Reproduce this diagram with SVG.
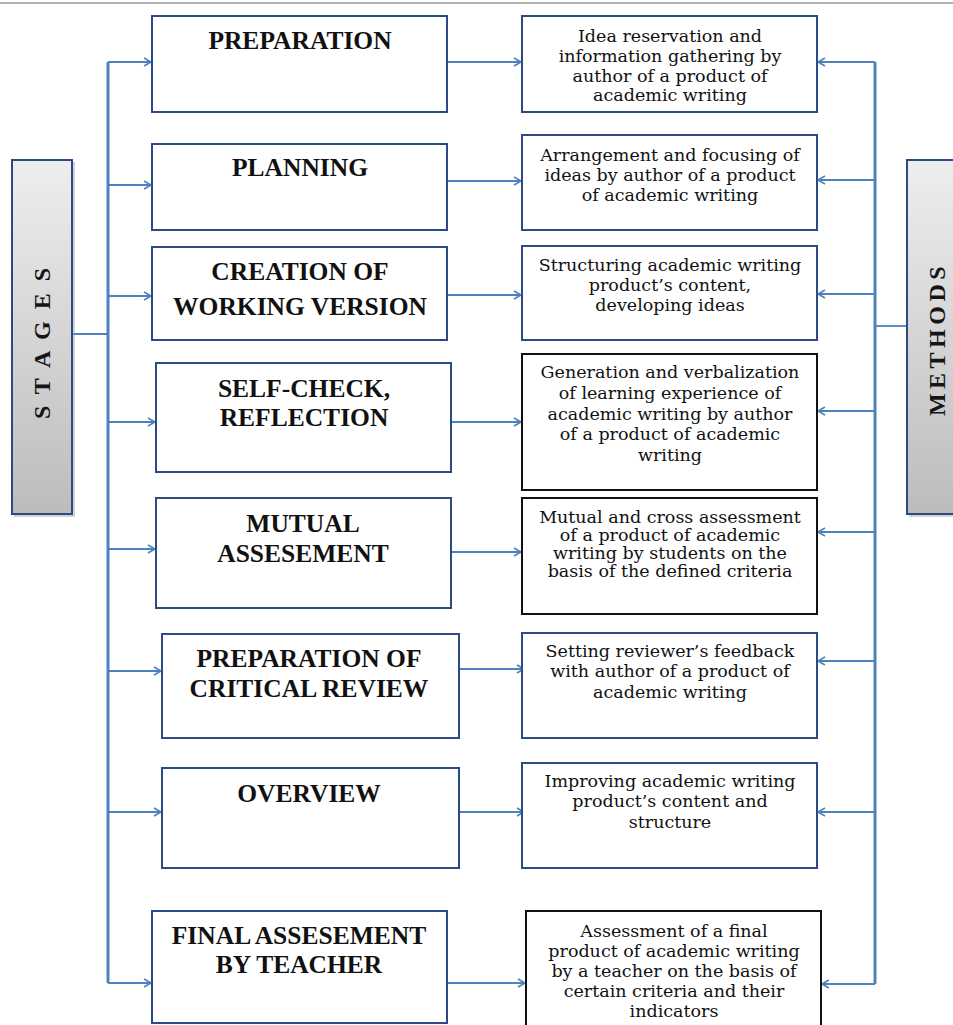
<svg xmlns="http://www.w3.org/2000/svg" width="953" height="1025" viewBox="0 0 953 1025">
<defs>
<linearGradient id="gr" x1="0" y1="0" x2="0" y2="1">
<stop offset="0" stop-color="#eeeeee"/>
<stop offset="1" stop-color="#bcbcbc"/>
</linearGradient>
<marker id="ah" markerWidth="10" markerHeight="10" refX="8" refY="5" orient="auto" markerUnits="userSpaceOnUse">
<path d="M1,1 L8,5 L1,9" fill="none" stroke="#4f81bd" stroke-width="1.6"/>
</marker>
</defs>
<style>
.stg{fill:#fff;stroke:#2b4a86;stroke-width:2}
.mth{fill:#fff;stroke:#2b4a86;stroke-width:2}
.mthk{fill:#fff;stroke:#111;stroke-width:2}
.side{fill:url(#gr);stroke:#2b4a86;stroke-width:2}
.shadow{fill:#999;opacity:0.45}
.t{font-family:"Liberation Serif","Times New Roman",serif;font-weight:bold;font-size:25.5px;fill:#111;text-anchor:middle}
.m{font-family:"DejaVu Serif",serif;font-size:17.5px;fill:#111;text-anchor:middle}
.sd{font-family:"Liberation Serif","Times New Roman",serif;font-weight:bold;font-size:24px;fill:#151515;text-anchor:middle}
.c{fill:none;stroke:#4f81bd;stroke-width:1.8}
.trunk{fill:none;stroke:#4f81bd;stroke-width:3}
</style>
<rect width="953" height="1025" fill="#fff"/>
<line x1="0" y1="3" x2="953" y2="3" stroke="#b0b0b0" stroke-width="2"/>

<g id="connectors">
<path class="trunk" d="M108,62 V983"/>
<path class="trunk" d="M875,62 V984"/>
<path class="c" d="M72,334 H108"/>
<path class="c" d="M907,326 H875"/>
<path class="c" d="M108,62 H151" marker-end="url(#ah)"/>
<path class="c" d="M108,185 H151" marker-end="url(#ah)"/>
<path class="c" d="M108,296 H151" marker-end="url(#ah)"/>
<path class="c" d="M108,422 H155" marker-end="url(#ah)"/>
<path class="c" d="M108,549 H155" marker-end="url(#ah)"/>
<path class="c" d="M108,671 H161" marker-end="url(#ah)"/>
<path class="c" d="M108,812 H161" marker-end="url(#ah)"/>
<path class="c" d="M108,983 H151" marker-end="url(#ah)"/>
<path class="c" d="M447,62 H521" marker-end="url(#ah)"/>
<path class="c" d="M447,181 H521" marker-end="url(#ah)"/>
<path class="c" d="M447,295 H521" marker-end="url(#ah)"/>
<path class="c" d="M447,422 H521" marker-end="url(#ah)"/>
<path class="c" d="M447,552 H521" marker-end="url(#ah)"/>
<path class="c" d="M451,669 H524" marker-end="url(#ah)"/>
<path class="c" d="M451,812 H524" marker-end="url(#ah)"/>
<path class="c" d="M447,983 H525" marker-end="url(#ah)"/>
<path class="c" d="M875,62 H818" marker-end="url(#ah)"/>
<path class="c" d="M875,180 H818" marker-end="url(#ah)"/>
<path class="c" d="M875,294 H818" marker-end="url(#ah)"/>
<path class="c" d="M875,411 H818" marker-end="url(#ah)"/>
<path class="c" d="M875,532 H818" marker-end="url(#ah)"/>
<path class="c" d="M875,661 H818" marker-end="url(#ah)"/>
<path class="c" d="M875,812 H818" marker-end="url(#ah)"/>
<path class="c" d="M875,984 H822" marker-end="url(#ah)"/>
</g>

<g id="stages">
<rect class="shadow" x="14" y="162" width="61" height="355"/>
<rect class="side" x="12" y="160" width="60" height="354"/>
<text class="sd" transform="translate(50,342) rotate(-90)" letter-spacing="3">S T A G E S</text>
</g>
<g id="methods">
<rect class="shadow" x="909" y="162" width="60" height="355"/>
<rect class="side" x="907" y="160" width="60" height="354"/>
<text class="sd" transform="translate(945,339) rotate(-90)" letter-spacing="4.5">METHODS</text>
</g>

<g id="s1"><rect class="stg" x="152" y="16" width="295" height="96"/><text class="t" x="300" y="49">PREPARATION</text></g>
<g id="s2"><rect class="stg" x="152" y="144" width="295" height="86"/><text class="t" x="300" y="176">PLANNING</text></g>
<g id="s3"><rect class="stg" x="152" y="247" width="295" height="93"/><text class="t" x="300" y="280">CREATION OF</text><text class="t" x="300" y="315">WORKING VERSION</text></g>
<g id="s4"><rect class="stg" x="156" y="363" width="295" height="109"/><text class="t" x="304" y="397">SELF-CHECK,</text><text class="t" x="304" y="426">REFLECTION</text></g>
<g id="s5"><rect class="stg" x="156" y="498" width="295" height="110"/><text class="t" x="303" y="532">MUTUAL</text><text class="t" x="303" y="562">ASSESEMENT</text></g>
<g id="s6"><rect class="stg" x="162" y="634" width="297" height="104"/><text class="t" x="309" y="667">PREPARATION OF</text><text class="t" x="309" y="697">CRITICAL REVIEW</text></g>
<g id="s7"><rect class="stg" x="162" y="768" width="297" height="100"/><text class="t" x="309" y="802">OVERVIEW</text></g>
<g id="s8"><rect class="stg" x="152" y="911" width="295" height="112"/><text class="t" x="299" y="944">FINAL ASSESEMENT</text><text class="t" x="299" y="973">BY TEACHER</text></g>

<g id="m1"><rect class="mth" x="522" y="16" width="295" height="96"/>
<text class="m" x="670" y="42">Idea reservation and</text>
<text class="m" x="670" y="62">information gathering by</text>
<text class="m" x="670" y="82">author of a product of</text>
<text class="m" x="670" y="101">academic writing</text></g>
<g id="m2"><rect class="mth" x="522" y="135" width="295" height="95"/>
<text class="m" x="670" y="161">Arrangement and focusing of</text>
<text class="m" x="670" y="181">ideas by author of a product</text>
<text class="m" x="670" y="201">of academic writing</text></g>
<g id="m3"><rect class="mth" x="522" y="246" width="295" height="94"/>
<text class="m" x="670" y="271">Structuring academic writing</text>
<text class="m" x="670" y="291">product’s content,</text>
<text class="m" x="670" y="311">developing ideas</text></g>
<g id="m4"><rect class="mthk" x="522" y="354" width="295" height="136"/>
<text class="m" x="670" y="378">Generation and verbalization</text>
<text class="m" x="670" y="399">of learning experience of</text>
<text class="m" x="670" y="420">academic writing by author</text>
<text class="m" x="670" y="440">of a product of academic</text>
<text class="m" x="670" y="461">writing</text></g>
<g id="m5"><rect class="mthk" x="522" y="498" width="295" height="116"/>
<text class="m" x="670" y="523">Mutual and cross assessment</text>
<text class="m" x="670" y="541">of a product of academic</text>
<text class="m" x="670" y="559">writing by students on the</text>
<text class="m" x="670" y="577">basis of the defined criteria</text></g>
<g id="m6"><rect class="mth" x="522" y="633" width="295" height="105"/>
<text class="m" x="670" y="657">Setting reviewer’s feedback</text>
<text class="m" x="670" y="677">with author of a product of</text>
<text class="m" x="670" y="698">academic writing</text></g>
<g id="m7"><rect class="mth" x="522" y="763" width="295" height="105"/>
<text class="m" x="670" y="787">Improving academic writing</text>
<text class="m" x="670" y="807">product’s content and</text>
<text class="m" x="670" y="828">structure</text></g>
<g id="m8"><rect class="mthk" x="526" y="911" width="295" height="120"/>
<text class="m" x="674" y="937">Assessment of a final</text>
<text class="m" x="674" y="957">product of academic writing</text>
<text class="m" x="674" y="977">by a teacher on the basis of</text>
<text class="m" x="674" y="997">certain criteria and their</text>
<text class="m" x="674" y="1017">indicators</text></g>
</svg>
